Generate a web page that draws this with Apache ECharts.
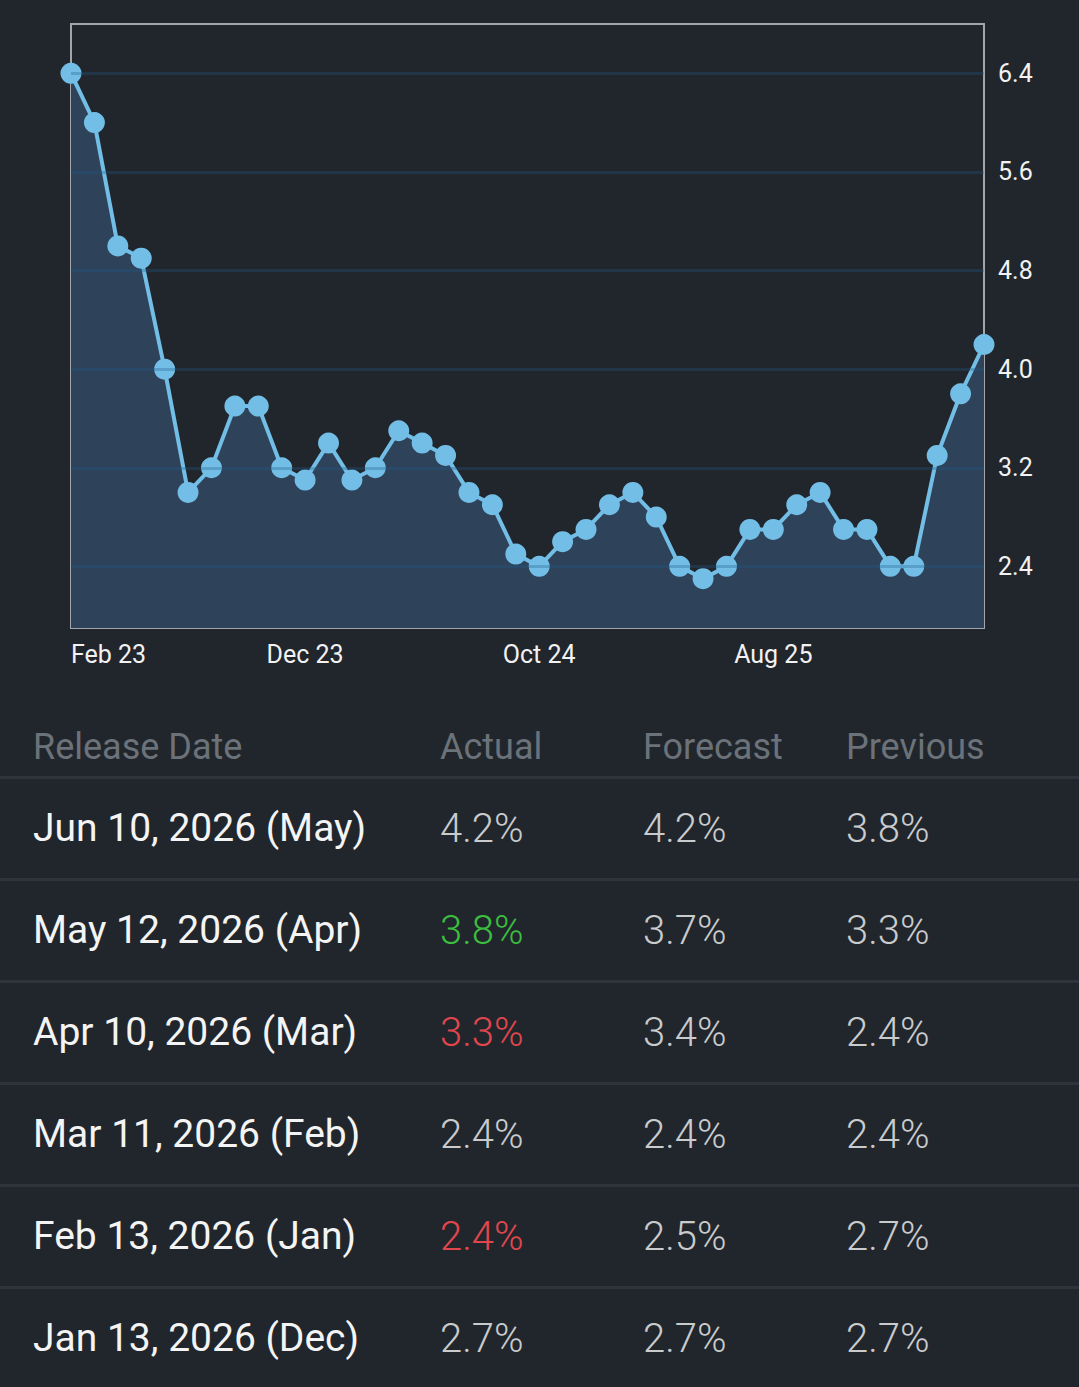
<!DOCTYPE html>
<html>
<head>
<meta charset="utf-8">
<script src="https://cdn.jsdelivr.net/npm/echarts@6/dist/echarts.min.js"></script>
<style>
  html, body { margin: 0; padding: 0; background: #21262c; }
  body { width: 1079px; height: 1387px; position: relative; overflow: hidden; font-family: Roboto, "Noto Sans", sans-serif; }
  #main { position: absolute; left: 0; top: 0; width: 1079px; height: 700px; }
  .hdr, .row { position: absolute; left: 0; width: 1079px; }
  .hdr { top: 717px; height: 60px; line-height: 60px; color: #6b7279; font-size: 36px; }
  .row { height: 99px; line-height: 99px; border-top: 3px solid #2e343b; }
  .cell { position: absolute; top: 0; white-space: nowrap; }
  .date { color: #f4f4f4; font-size: 39px; }
  .val { color: #c9cbcd; font-size: 40px; font-weight: 300; }
</style>
</head>
<body>
<div id="main"></div>
<div id="table"></div>
<script>
var months = ['Feb 23','Mar 23','Apr 23','May 23','Jun 23','Jul 23','Aug 23','Sep 23','Oct 23','Nov 23',
              'Dec 23','Jan 24','Feb 24','Mar 24','Apr 24','May 24','Jun 24','Jul 24','Aug 24','Sep 24',
              'Oct 24','Nov 24','Dec 24','Jan 25','Feb 25','Mar 25','Apr 25','May 25','Jun 25','Jul 25',
              'Aug 25','Sep 25','Oct 25','Nov 25','Dec 25','Jan 26','Feb 26','Mar 26','Apr 26','May 26'];
var values = [6.4,6.0,5.0,4.9,4.0,3.0,3.2,3.7,3.7,3.2,
              3.1,3.4,3.1,3.2,3.5,3.4,3.3,3.0,2.9,2.5,
              2.4,2.6,2.7,2.9,3.0,2.8,2.4,2.3,2.4,2.7,
              2.7,2.9,3.0,2.7,2.7,2.4,2.4,3.3,3.8,4.2];
var yTicks = [2.4,3.2,4.0,4.8,5.6,6.4];

var headers = ['Release Date','Actual','Forecast','Previous'];
var releaseDates = ['Jun 10, 2026 (May)','May 12, 2026 (Apr)','Apr 10, 2026 (Mar)','Mar 11, 2026 (Feb)','Feb 13, 2026 (Jan)','Jan 13, 2026 (Dec)'];
var actual   = [4.2,3.8,3.3,2.4,2.4,2.7];
var forecast = [4.2,3.7,3.4,2.4,2.5,2.7];
var previous = [3.8,3.3,2.4,2.4,2.7,2.7];

var colX = [33,440,643,846];

var chart = echarts.init(document.getElementById('main'), null, {renderer:'svg'});
var option = {
    backgroundColor: '#21262c',
    animation: false,
    grid: {
        left: 71, right: 95, top: 24, height: 604,
        show: true, borderColor: '#a2a6aa', borderWidth: 2, backgroundColor: 'transparent'
    },
    xAxis: {
        type: 'category',
        data: months,
        boundaryGap: false,
        axisLine: {show:false},
        axisTick: {show:false},
        axisLabel: {
            interval: 9,
            alignMinLabel: 'left',
            margin: 14,
            color: '#f2f2f2',
            fontSize: 25,
            fontFamily: 'Roboto'
        },
        splitLine: {show:false}
    },
    yAxis: {
        type: 'value',
        position: 'right',
        min: 1.9,
        max: 6.8,
        interval: 0.1,
        axisLine: {show:false},
        axisTick: {show:false},
        splitLine: {show:false},
        axisLabel: {
            margin: 14,
            color: '#f2f2f2',
            fontSize: 25,
            fontFamily: 'Roboto',
            formatter: function(v){
                var r = Math.round(v*10)/10;
                return yTicks.indexOf(r) >= 0 ? r.toFixed(1) : '';
            }
        }
    },
    series: [{
        // filled area under the line
        type: 'line',
        data: values,
        symbol: 'none',
        lineStyle: {width:0},
        areaStyle: {color:'#2e4259', opacity:1},
        silent: true,
        z: 1
    },{
        // horizontal guide lines at the labelled ticks
        type: 'line',
        data: [],
        symbol: 'none',
        silent: true,
        z: 2,
        markLine: {
            silent: true,
            symbol: 'none',
            label: {show:false},
            lineStyle: {color:'rgba(30,90,140,0.3)', width:3, type:'solid'},
            data: yTicks.map(function(v){ return {yAxis:v}; })
        }
    },{
        type: 'line',
        data: values,
        symbol: 'circle',
        symbolSize: 21,
        showAllSymbol: true,
        lineStyle: {color:'#72bee6', width:4},
        itemStyle: {color:'#72bee6'},
        z: 3
    }]
};
chart.setOption(option);

// table under the chart
function colorFor(a, f){
    if (a > f) return '#3dbd3f';
    if (a < f) return '#e0474c';
    return '#c9cbcd';
}
var html = '<div class="hdr">';
headers.forEach(function(h, i){
    html += '<div class="cell" style="left:' + colX[i] + 'px">' + h + '</div>';
});
html += '</div>';
releaseDates.forEach(function(d, i){
    html += '<div class="row" style="top:' + (776 + 102*i) + 'px">';
    html += '<div class="cell date" style="left:' + colX[0] + 'px">' + d + '</div>';
    html += '<div class="cell val" style="left:' + colX[1] + 'px;color:' + colorFor(actual[i], forecast[i]) + '">' + actual[i].toFixed(1) + '%</div>';
    html += '<div class="cell val" style="left:' + colX[2] + 'px">' + forecast[i].toFixed(1) + '%</div>';
    html += '<div class="cell val" style="left:' + colX[3] + 'px">' + previous[i].toFixed(1) + '%</div>';
    html += '</div>';
});
document.getElementById('table').innerHTML = html;
</script>
</body>
</html>
